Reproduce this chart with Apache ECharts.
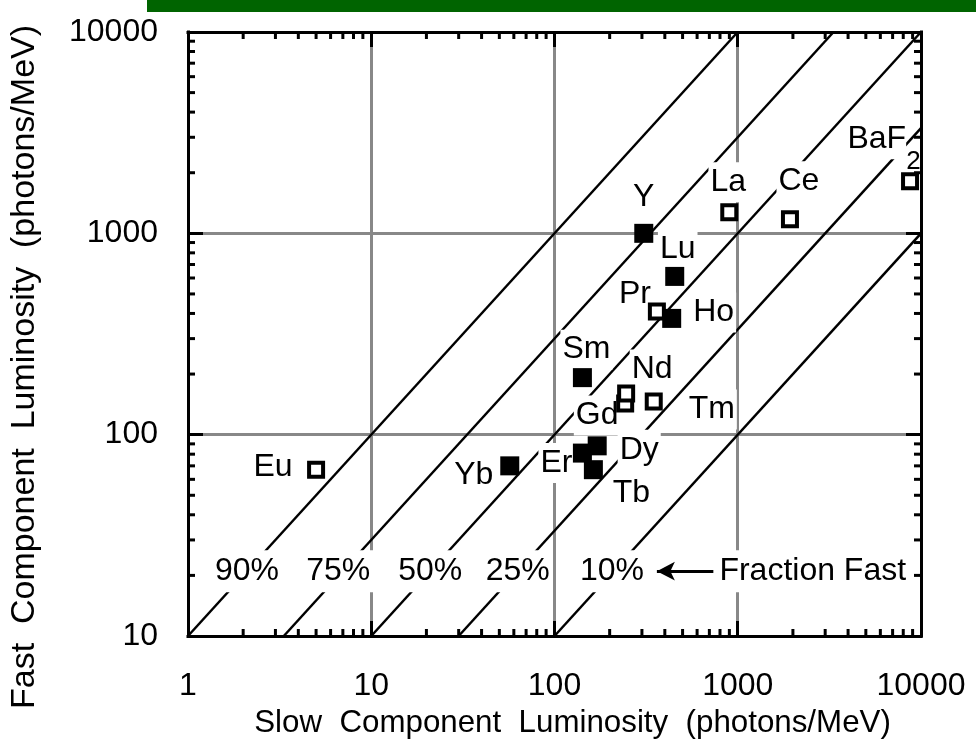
<!DOCTYPE html>
<html>
<head>
<meta charset="utf-8">
<script src="https://cdn.jsdelivr.net/npm/echarts@6/dist/echarts.min.js"></script>
<style>
  html, body { margin: 0; padding: 0; background: #fff; }
  #chart { width: 976px; height: 747px; }
</style>
</head>
<body>
<div id="chart"></div>
<script>
// Rare-earth dopants: slow vs fast scintillation light output (photons/MeV)
const elements = ['Eu', 'Yb', 'Er', 'Dy', 'Tb', 'Gd', 'Nd', 'Tm', 'Sm', 'Y', 'Lu', 'Pr', 'Ho', 'La', 'Ce', 'BaF2'];
const slowLum  = [5.0, 57, 142, 171, 163, 243, 246, 348, 142, 307, 453, 362, 436, 899, 1927, 8715];
const fastLum  = [67, 70, 81, 88, 67, 143, 160, 146, 192, 1000, 611, 409, 378, 1271, 1175, 1815];
const isFilled = [false, true, true, true, true, false, false, false, true, true, true, false, true, false, false, false];

// Constant fast-fraction guide lines, given by their two ends (slow, fast)
const fractionNames = ['90%', '75%', '50%', '25%', '10%'];
const guideFrom = [[1, 10], [3.333, 10], [10, 10], [30, 10], [100, 10]];
const guideTo   = [[1000, 10000], [3333, 10000], [10000, 10000], [10000, 3333], [10000, 1000]];
// Where the percentage captions sit along the guides
const captionSlow = [2.1, 6.6, 21, 63, 206];
const captionFast = 21;
const legendText = 'Fraction Fast';
const legendSlow = 2566;
const arrowFrom = [736, 21];
const arrowTo = [362, 21];

// Axis ticks
const xTickValues = [1, 10, 100, 1000, 10000];
const xTickLabels = ['1', '10', '100', '1000', '10000'];
const yTickValues = [10, 100, 1000, 10000];
const yTickLabels = ['10', '100', '1000', '10000'];
const xMinor = [2, 3, 4, 5, 6, 7, 8, 9, 20, 30, 40, 50, 60, 70, 80, 90,
                200, 300, 400, 500, 600, 700, 800, 900, 2000, 3000, 4000, 5000, 6000, 7000, 8000, 9000];
const yMinor = [20, 30, 40, 50, 60, 70, 80, 90, 200, 300, 400, 500, 600, 700, 800, 900,
                2000, 3000, 4000, 5000, 6000, 7000, 8000, 9000];

// Pixel offsets of each element name from its marker
const nameOffset = {
  Eu: [-43, -3], Yb: [-36, 9], Er: [-26, 10], Dy: [42, 4], Tb: [38, 23], Gd: [-28, 12],
  Nd: [26, -24], Tm: [58, 8], Sm: [4, -28], Y: [0, -36], Lu: [3, -27], Pr: [-22, -17],
  Ho: [42, -6], La: [-1, -30], Ce: [9, -38], BaF2: [-26, -42]
};

const FONT = "'Liberation Sans', Arial, sans-serif";
const FS = 32;
const MINOR_LEN = 7;
const MAJOR_LEN = 15;
const X_MIN = 1, X_MAX = 10000, Y_MIN = 10, Y_MAX = 10000;

const plainText = { color: '#000', fontFamily: FONT, textBorderWidth: 0, textBorderColor: 'transparent', textShadowBlur: 0, opacity: 1 };

const filledPts = [], openPts = [], namePts = [];
elements.forEach((n, i) => {
  const p = [slowLum[i], fastLum[i]];
  (isFilled[i] ? filledPts : openPts).push({ name: n, value: p });
  const item = { name: n, value: p, label: { offset: nameOffset[n] } };
  if (n === 'BaF2') {
    item.label.formatter = '{n|BaF}{s|2}';
    item.label.backgroundColor = 'transparent';
    item.label.padding = 0;
  }
  namePts.push(item);
});

const guideSeries = fractionNames.map((f, i) => ({
  type: 'line', name: f, data: [guideFrom[i], guideTo[i]],
  showSymbol: false, symbol: 'none', silent: true, clip: true, z: 2,
  lineStyle: { color: '#000', width: 2.5 }
}));

const captionPts = fractionNames.map((f, i) => ({ name: f, value: [captionSlow[i], captionFast] }));
captionPts.push({ name: legendText, value: [legendSlow, captionFast] });

function tickAxisX(position, showLabels) {
  return {
    type: 'log', logBase: 10, min: X_MIN, max: X_MAX, position: position, gridIndex: 0,
    axisLine: { show: true, lineStyle: { color: '#000', width: 3, cap: 'square' } },
    axisTick: { show: true, inside: true, length: MAJOR_LEN, lineStyle: { color: '#000', width: 3 } },
    splitLine: { show: showLabels, lineStyle: { color: '#888', width: 3 } },
    axisLabel: Object.assign({}, plainText, {
      show: showLabels, margin: 34, fontSize: FS,
      formatter: (v) => { const k = xTickValues.findIndex(t => Math.abs(Math.log10(t) - Math.log10(v)) < 1e-6); return k >= 0 ? xTickLabels[k] : ''; }
    })
  };
}
function tickAxisY(position, showLabels) {
  return {
    type: 'log', logBase: 10, min: Y_MIN, max: Y_MAX, position: position, gridIndex: 0,
    axisLine: { show: true, lineStyle: { color: '#000', width: 3, cap: 'square' } },
    axisTick: { show: true, inside: true, length: MAJOR_LEN, lineStyle: { color: '#000', width: 3 } },
    splitLine: { show: showLabels, lineStyle: { color: '#888', width: 3 } },
    axisLabel: Object.assign({}, plainText, {
      show: showLabels, margin: 30, fontSize: FS,
      formatter: (v) => { const k = yTickValues.findIndex(t => Math.abs(Math.log10(t) - Math.log10(v)) < 1e-6); return k >= 0 ? yTickLabels[k] : ''; }
    })
  };
}

const xMain = tickAxisX('bottom', true);
xMain.name = 'Slow  Component  Luminosity  (photons/MeV)';
xMain.nameLocation = 'middle';
xMain.nameGap = 72;
xMain.nameTextStyle = Object.assign({}, plainText, { fontSize: 31.3, padding: [0, 0, 0, 36] });
const yMain = tickAxisY('left', true);
yMain.name = 'Fast  Component  Luminosity  (photons/MeV)';
yMain.nameLocation = 'middle';
yMain.nameGap = 146;
yMain.nameTextStyle = Object.assign({}, plainText, { fontSize: 34, padding: [0, 66, 0, 0] });

const option = {
  animation: false,
  backgroundColor: '#fff',
  grid: { left: 183, top: 32, right: 55, bottom: 111, containLabel: false },
  graphic: [{
    type: 'rect', left: 147, top: 0, shape: { width: 829, height: 12 },
    style: { fill: '#006400' }, z: 10
  }],
  xAxis: [xMain, tickAxisX('top', false)],
  yAxis: [yMain, tickAxisY('right', false)],
  series: [
    ...guideSeries,
    {
      // percentage captions and the "Fraction Fast" key
      type: 'scatter', name: 'captions', data: captionPts, symbolSize: 0, z: 3, silent: true,
      itemStyle: { opacity: 1 },
      label: Object.assign({}, plainText, {
        show: true, position: 'inside', formatter: '{b}',
        fontSize: FS, backgroundColor: '#fff', padding: [5, 3]
      }),
      markLine: {
        silent: true, symbol: ['none', 'arrow'], symbolSize: [14, 18],
        label: { show: false },
        lineStyle: { color: '#000', width: 3, type: 'solid', opacity: 1 },
        itemStyle: { color: '#000', opacity: 1 },
        data: [[{ coord: arrowFrom }, { coord: arrowTo }]]
      }
    },
    {
      // element names
      type: 'scatter', name: 'names', data: namePts, symbolSize: 0, z: 3, silent: true,
      itemStyle: { opacity: 1 },
      label: Object.assign({}, plainText, {
        show: true, position: 'inside', formatter: '{b}',
        fontSize: FS, backgroundColor: '#fff', padding: [4, 2],
        rich: {
          n: Object.assign({}, plainText, { fontSize: FS, backgroundColor: '#fff', padding: [4, 0] }),
          s: Object.assign({}, plainText, { fontSize: 26, padding: [46, 0, 0, 0] })
        }
      })
    },
    {
      type: 'scatter', name: 'filled', data: filledPts, symbol: 'rect', symbolSize: 19, z: 4,
      itemStyle: { color: '#000', opacity: 1 }
    },
    {
      type: 'scatter', name: 'open', data: openPts, symbol: 'rect', symbolSize: 14, z: 4,
      itemStyle: { color: '#fff', borderColor: '#000', borderWidth: 4, opacity: 1 }
    },
    {
      // minor ticks along the bottom and top edges
      type: 'custom', name: 'xMinor', data: xMinor.map(v => [v, Y_MIN]), z: 5, silent: true, clip: false,
      renderItem: (params, api) => {
        const v = api.value(0);
        const b = api.coord([v, Y_MIN]), t = api.coord([v, Y_MAX]);
        const st = { stroke: '#000', lineWidth: 3 };
        return { type: 'group', children: [
          { type: 'line', shape: { x1: b[0], y1: b[1], x2: b[0], y2: b[1] - MINOR_LEN }, style: st },
          { type: 'line', shape: { x1: t[0], y1: t[1], x2: t[0], y2: t[1] + MINOR_LEN }, style: st }
        ] };
      }
    },
    {
      // minor ticks along the left and right edges
      type: 'custom', name: 'yMinor', data: yMinor.map(v => [X_MIN, v]), z: 5, silent: true, clip: false,
      renderItem: (params, api) => {
        const v = api.value(1);
        const l = api.coord([X_MIN, v]), r = api.coord([X_MAX, v]);
        const st = { stroke: '#000', lineWidth: 3 };
        return { type: 'group', children: [
          { type: 'line', shape: { x1: l[0], y1: l[1], x2: l[0] + MINOR_LEN, y2: l[1] }, style: st },
          { type: 'line', shape: { x1: r[0], y1: r[1], x2: r[0] - MINOR_LEN, y2: r[1] }, style: st }
        ] };
      }
    }
  ]
};

const chart = echarts.init(document.getElementById('chart'), null, { renderer: 'canvas' });
chart.setOption(option);
</script>
</body>
</html>
